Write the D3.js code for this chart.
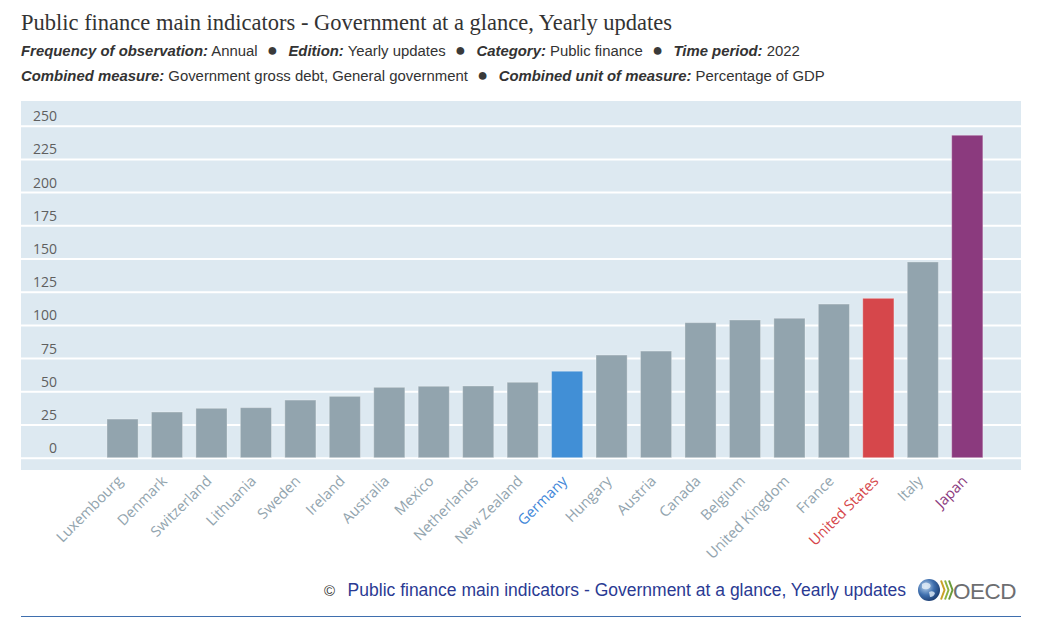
<!DOCTYPE html>
<html><head><meta charset="utf-8">
<script src="https://cdn.jsdelivr.net/npm/d3@7"></script>
<style>
body{margin:0;background:#fff;}
svg{display:block;}
text{white-space:pre;}
</style></head>
<body>
<svg id="chart" width="1042" height="630"></svg>
<script>
const countries = ["Luxembourg","Denmark","Switzerland","Lithuania","Sweden","Ireland","Australia","Mexico","Netherlands","New Zealand","Germany","Hungary","Austria","Canada","Belgium","United Kingdom","France","United States","Italy","Japan"];
const debtValues = [29.1,34.4,37.2,37.7,43.4,46.2,53.0,53.8,54.0,56.8,65.1,77.3,80.3,101.7,103.7,105.0,115.7,120.0,147.4,242.8];
const yTicks = [0,25,50,75,100,125,150,175,200,225,250];
const highlight = {"Germany":"#418fd6","United States":"#d6474b","Japan":"#8b3a7e"};
const labelHighlight = {"Germany":"#3f86d8","United States":"#d6474b","Japan":"#8b3a7e"};
const titleText = "Public finance main indicators - Government at a glance, Yearly updates";
const subLine1 = [["Frequency of observation:","Annual"],["Edition:","Yearly updates"],["Category:","Public finance"],["Time period:","2022"]];
const subLine2 = [["Combined measure:","Government gross debt, General government"],["Combined unit of measure:","Percentage of GDP"]];
const footerText = "Public finance main indicators - Government at a glance, Yearly updates";

const svg = d3.select("#chart");
const greyBar = "#92a4ae";
const greyLabel = "#92a4ae";

// Title
svg.append("text").attr("x",21).attr("y",30)
  .attr("font-family","'Liberation Serif','DejaVu Serif',serif").attr("font-size",22.5)
  .attr("fill","#333").text(titleText);

function subtitle(items, y){
  const t = svg.append("text").attr("x",21).attr("y",y)
    .attr("font-family","'Liberation Sans',Arial,sans-serif").attr("font-size",14.9).attr("fill","#333");
  items.forEach((it,i)=>{
    if(i>0){
      t.append("tspan").text("   ");
      t.append("tspan").attr("dx",-3).attr("font-size",18).attr("fill","#3a3a3a").text("\u25CF");
      t.append("tspan").text("   ");
    }
    t.append("tspan").attr("dx",i>0?-2:0).attr("font-weight","bold").attr("font-style","italic").text(it[0]);
    t.append("tspan").text(" "+it[1]);
  });
}
subtitle(subLine1, 56);
subtitle(subLine2, 81);

// Plot
const plotL = 21, plotR = 1021, plotT = 101, plotB = 470;
svg.append("rect").attr("x",plotL).attr("y",plotT).attr("width",plotR-plotL).attr("height",plotB-plotT).attr("fill","#dde9f1");

const y = d3.scaleLinear().domain([0,250]).range([457.7,125.7]);
const x = d3.scaleBand().domain(countries).range([100.3,989.5]).paddingInner(0.3).paddingOuter(0.15);

const yAxis = d3.axisLeft(y).tickValues(yTicks).tickSize(-(plotR-plotL)).tickFormat(d3.format("d"));
const gy = svg.append("g").attr("transform",`translate(${plotL},0)`).call(yAxis);
gy.select(".domain").remove();
gy.selectAll(".tick line").attr("stroke","#fff").attr("stroke-width",2).attr("x1",plotR-plotL).attr("x2",0);
gy.selectAll(".tick text").attr("x",36).attr("dy","-0.36em").attr("text-anchor","end")
  .attr("font-family","'Open Sans',sans-serif").attr("font-size",14).attr("fill","#5f5f5f");

svg.append("g").selectAll("rect").data(countries).join("rect")
  .attr("x",d=>x(d)).attr("width",x.bandwidth())
  .attr("y",(d,i)=>y(debtValues[i])).attr("height",(d,i)=>y(0)-y(debtValues[i]))
  .attr("fill",d=>highlight[d]||greyBar)
  .attr("stroke","rgba(255,255,255,0.3)").attr("stroke-width",1);

// X labels
const xAxis = d3.axisBottom(x).tickSize(0);
const gx = svg.append("g").attr("transform",`translate(0,${plotB})`).call(xAxis);
gx.select(".domain").remove();
gx.selectAll(".tick text")
  .attr("font-family","'Open Sans',sans-serif").attr("font-size",14.6)
  .attr("fill",d=>labelHighlight[d]||greyLabel)
  .attr("text-anchor","end").attr("dy",0).attr("y",0)
  .attr("transform","translate(1,12) rotate(-45)");

// Footer
const ft = svg.append("text").attr("x",906).attr("y",596).attr("text-anchor","end")
  .attr("font-family","'Liberation Sans',Arial,sans-serif").attr("font-size",17.5).attr("fill","#2a3a93");
ft.append("tspan").attr("fill","#333").attr("font-size",15).text("\u00A9   ");
ft.append("tspan").text(footerText);

// OECD logo
const logo = svg.append("g");
const grad = svg.append("defs").append("radialGradient").attr("id","globe").attr("cx","35%").attr("cy","35%").attr("r","70%");
grad.append("stop").attr("offset","0%").attr("stop-color","#b9d4ee");
grad.append("stop").attr("offset","55%").attr("stop-color","#3f6fae");
grad.append("stop").attr("offset","100%").attr("stop-color","#1d3e72");
logo.append("circle").attr("cx",929).attr("cy",590).attr("r",11).attr("fill","url(#globe)");
logo.append("path").attr("d","M922,584 q4,-3 8,0 q2,3 -2,5 q-4,1 -6,-1 z M929,592 q4,-2 6,1 q-1,4 -5,4 z").attr("fill","#e4eef8").attr("opacity",0.8);
[["#c9a227",941],["#8db33f",945],["#6a9a3a",949]].forEach(c=>{
  logo.append("path").attr("d",`M${c[1]},580.5 l3.5,9.5 l-3.5,9.5`).attr("fill","none").attr("stroke",c[0]).attr("stroke-width",2);
});
logo.append("text").attr("x",953).attr("y",598.5).attr("font-family","'Liberation Sans',Arial,sans-serif")
  .attr("font-size",22.5).attr("letter-spacing",-0.5).attr("fill","#6d6e71").text("OECD");

svg.append("line").attr("x1",21).attr("x2",1021).attr("y1",616.5).attr("y2",616.5).attr("stroke","#3f6fae").attr("stroke-width",1);
</script>
</body></html>
